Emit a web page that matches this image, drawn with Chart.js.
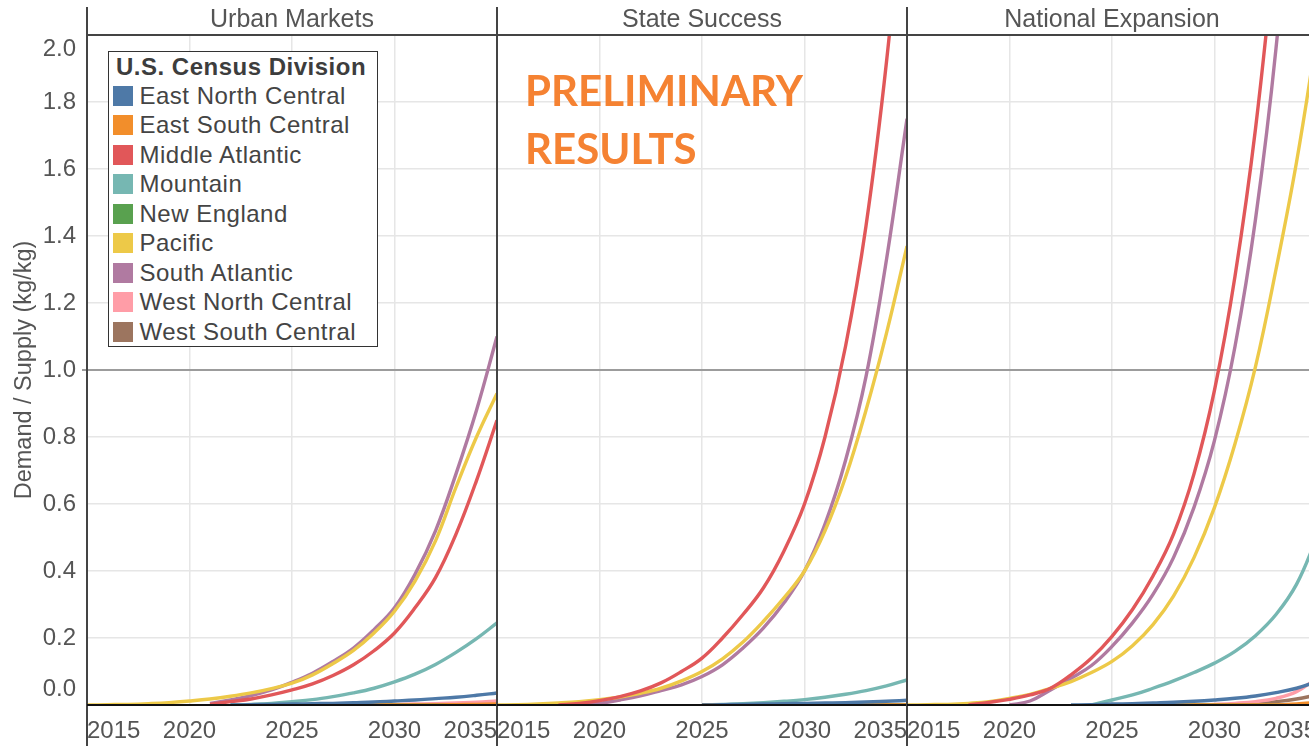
<!DOCTYPE html>
<html>
<head>
<meta charset="utf-8">
<title>Demand / Supply by U.S. Census Division</title>
<script src="https://cdn.jsdelivr.net/npm/chart.js@4.4.1/dist/chart.umd.min.js"></script>
<style>
  body { margin: 0; background: #fff; }
  #wrap { position: relative; width: 1309px; height: 746px; overflow: hidden; font-family: "Liberation Sans", Arial, sans-serif; }
  #wrap canvas { position: absolute; top: 0; }
  #legend { position: absolute; left: 108px; top: 51px; width: 268px; height: 294px; border: 1.5px solid #333; background: #fff; color: #444; }
  #legend .lg-title { font-weight: bold; font-size: 24px; letter-spacing: 0.5px; line-height: 28.5px; padding: 0.5px 0 0 7px; color: #3d3d3d; }
  #legend .lg-item { display: flex; align-items: center; height: 29.5px; font-size: 24px; letter-spacing: 0.5px; padding-left: 3.5px; white-space: nowrap; }
  #legend .lg-item span { width: 20px; height: 20px; margin-right: 7px; flex: none; }
  #prelim { position: absolute; left: 525px; top: 61px; font: 700 42px Lato, "Open Sans", sans-serif; line-height: 58px; color: #F58232; }
</style>
</head>
<body>
<div id="wrap">
  <canvas id="urban" width="500" height="746" style="left:0px"></canvas>
  <canvas id="state" width="420" height="746" style="left:490px"></canvas>
  <canvas id="national" width="420" height="746" style="left:900px"></canvas>
  <div id="legend"></div>
  <div id="prelim">PRELIMINARY<br>RESULTS</div>
</div>
<script>
'use strict';
const _ = null;

let years = [2015, 2016, 2017, 2018, 2019, 2020, 2021, 2022, 2023, 2024, 2025,
  2026, 2027, 2028, 2029, 2030, 2031, 2032, 2033, 2034, 2035];

let divisions = ['East North Central', 'East South Central', 'Middle Atlantic', 'Mountain',
  'New England', 'Pacific', 'South Atlantic', 'West North Central', 'West South Central'];

let divisionColors = ['#4E79A7', '#F28E2B', '#E15759', '#76B7B2',
  '#59A14F', '#EDC948', '#B07AA1', '#FF9DA7', '#9C755F'];

let yTicks = [0, 0.2, 0.4, 0.6, 0.8, 1.0, 1.2, 1.4, 1.6, 1.8, 2.0];
let xTicks = [2015, 2020, 2025, 2030, 2035];

// demand / supply ratio per year, one row per division (same order as divisions)
let urbanMarkets = [
  [_, _, _, _, _, _, _, 0, 0.001, 0.002, 0.003, 0.004, 0.005, 0.007, 0.009, 0.012, 0.015, 0.019, 0.023, 0.029, 0.036],
  [_, _, _, _, _, _, _, _, _, _, 0, 0, 0, 0, 0, 0, 0, 0, 0.001, 0.002, 0.003],
  [_, _, _, _, _, _, 0.002, 0.01, 0.018, 0.03, 0.045, 0.063, 0.088, 0.12, 0.162, 0.215, 0.29, 0.38, 0.51, 0.67, 0.85],
  [_, _, _, _, _, _, _, 0, 0.002, 0.005, 0.01, 0.016, 0.025, 0.036, 0.05, 0.069, 0.092, 0.121, 0.157, 0.198, 0.245],
  [_, _, _, _, _, _, _, _, _, _, 0, 0, 0, 0, 0, 0, 0, 0, 0, 0, 0],
  [0, 0.001, 0.002, 0.004, 0.007, 0.012, 0.018, 0.026, 0.036, 0.049, 0.065, 0.09, 0.124, 0.163, 0.215, 0.28, 0.37, 0.49, 0.65, 0.8, 0.93],
  [_, _, _, _, _, _, 0.005, 0.015, 0.028, 0.045, 0.068, 0.095, 0.13, 0.17, 0.225, 0.29, 0.39, 0.52, 0.69, 0.88, 1.1],
  [_, _, _, _, _, _, _, _, _, _, _, _, _, 0, 0.001, 0.002, 0.003, 0.004, 0.006, 0.008, 0.012],
  [_, _, _, _, _, _, _, _, _, _, 0, 0, 0, 0, 0, 0, 0, 0, 0, 0, 0]
];

let stateSuccess = [
  [_, _, _, _, _, _, _, _, _, _, 0, 0.001, 0.002, 0.003, 0.004, 0.005, 0.006, 0.007, 0.009, 0.011, 0.014],
  [_, _, _, _, _, _, _, _, _, _, 0, 0, 0, 0, 0, 0, 0, 0, 0, 0, 0],
  [_, _, _, 0, 0.005, 0.013, 0.025, 0.042, 0.066, 0.1, 0.14, 0.2, 0.27, 0.35, 0.46, 0.6, 0.8, 1.07, 1.43, 1.92, 2.55],
  [_, _, _, _, _, _, _, _, _, _, 0, 0.002, 0.004, 0.007, 0.011, 0.016, 0.023, 0.032, 0.043, 0.057, 0.075],
  [_, _, _, _, _, _, _, _, _, _, 0, 0, 0, 0, 0, 0, 0, 0, 0, 0, 0],
  [0, 0.001, 0.003, 0.006, 0.01, 0.016, 0.024, 0.035, 0.05, 0.072, 0.1, 0.138, 0.188, 0.25, 0.32, 0.4, 0.52, 0.68, 0.88, 1.11, 1.37],
  [_, _, _, _, 0, 0.005, 0.015, 0.027, 0.043, 0.06, 0.085, 0.12, 0.17, 0.23, 0.305, 0.4, 0.54, 0.73, 0.98, 1.33, 1.75],
  [_, _, _, _, _, _, _, _, _, _, 0, 0, 0, 0, 0, 0, 0, 0, 0, 0, 0],
  [_, _, _, _, _, _, _, _, _, _, 0, 0, 0, 0, 0, 0, 0, 0, 0, 0, 0]
];

let nationalExpansion = [
  [_, _, _, _, _, _, _, _, 0, 0.001, 0.003, 0.004, 0.006, 0.008, 0.011, 0.015, 0.02, 0.027, 0.037, 0.05, 0.07],
  [_, _, _, _, _, _, _, _, _, _, 0, 0, 0, 0, 0, 0, 0, 0, 0, 0.003, 0.008],
  [_, _, _, 0, 0.008, 0.017, 0.03, 0.05, 0.09, 0.14, 0.205, 0.285, 0.385, 0.51, 0.69, 0.94, 1.28, 1.72, 2.3, 3.0, 3.9],
  [_, _, _, _, _, _, _, _, _, 0, 0.015, 0.03, 0.05, 0.072, 0.097, 0.125, 0.16, 0.207, 0.27, 0.36, 0.5],
  [_, _, _, _, _, _, _, _, _, _, 0, 0, 0, 0, 0, 0, 0, 0, 0, 0.001, 0.003],
  [0, 0.001, 0.002, 0.005, 0.01, 0.02, 0.032, 0.05, 0.07, 0.097, 0.13, 0.177, 0.24, 0.325, 0.44, 0.59, 0.78, 1.01, 1.3, 1.62, 2.0],
  [_, _, _, _, _, 0, 0.012, 0.045, 0.08, 0.118, 0.175, 0.245, 0.33, 0.44, 0.59, 0.79, 1.07, 1.45, 1.96, 2.65, 3.5],
  [_, _, _, _, _, _, _, _, _, _, _, _, _, _, 0, 0.002, 0.005, 0.01, 0.02, 0.04, 0.08],
  [_, _, _, _, _, _, _, _, _, _, _, _, _, _, _, 0, 0.002, 0.005, 0.01, 0.018, 0.03]
];

const FONT = '"Liberation Sans", Arial, sans-serif';
Chart.defaults.font.family = FONT;
Chart.defaults.color = '#555';

// legend box drawn once, swatches from the division colours
let legendEl = document.getElementById('legend');
let titleEl = document.createElement('div');
titleEl.className = 'lg-title';
titleEl.textContent = 'U.S. Census Division';
legendEl.appendChild(titleEl);
for (let i = 0; i < divisions.length; i++) {
  let item = document.createElement('div');
  item.className = 'lg-item';
  let sw = document.createElement('span');
  sw.style.background = divisionColors[i];
  item.appendChild(sw);
  item.appendChild(document.createTextNode(divisions[i]));
  legendEl.appendChild(item);
}

// facet frame: header text, borders, the 1.0 rule and y labels kept inside the plot
const facetFrame = {
  id: 'facetFrame',
  beforeDatasetsDraw(chart, args, opts) {
    const {ctx, chartArea: a, scales: {y}} = chart;
    const py = y.getPixelForValue(1.0);
    ctx.save();
    ctx.strokeStyle = '#9c9c9c';
    ctx.lineWidth = 2;
    ctx.beginPath();
    ctx.moveTo(a.left - (opts.first ? 5 : 0), py);
    ctx.lineTo(a.right, py);
    ctx.stroke();
    ctx.restore();
  },
  afterDraw(chart, args, opts) {
    const {ctx, chartArea: a, scales: {y}} = chart;
    ctx.save();
    ctx.lineWidth = 2;
    ctx.strokeStyle = '#444';
    ctx.beginPath();
    ctx.moveTo(a.left, 7);
    ctx.lineTo(a.left, chart.height);
    ctx.moveTo(a.left, a.top);
    ctx.lineTo(a.right, a.top);
    ctx.stroke();
    ctx.strokeStyle = '#111';
    ctx.beginPath();
    ctx.moveTo(a.left, a.bottom);
    ctx.lineTo(a.right, a.bottom);
    ctx.stroke();

    ctx.fillStyle = '#555';
    ctx.font = '25px ' + FONT;
    ctx.textAlign = 'center';
    ctx.textBaseline = 'middle';
    ctx.fillText(opts.title, (a.left + a.right) / 2, 20);

    if (opts.first) {
      ctx.font = '24px ' + FONT;
      ctx.textAlign = 'right';
      y.ticks.forEach((t, i) => {
        let py = y.getPixelForTick(i);
        py = Math.min(Math.max(py, a.top + 14), a.bottom - 16);
        ctx.fillText(t.value.toFixed(1), a.left - 11, py);
      });
    }
    ctx.restore();
  }
};

function makePanel(canvasId, title, series, first) {
  let datasets = [];
  for (let i = 0; i < divisions.length; i++) {
    datasets.push({
      label: divisions[i],
      data: years.map((yr, j) => ({x: yr, y: series[i][j]})),
      borderColor: divisionColors[i],
      backgroundColor: divisionColors[i],
      borderWidth: 3.4,
      pointRadius: 0,
      pointHoverRadius: 0,
      tension: 0.4
    });
  }

  return new Chart(document.getElementById(canvasId), {
    type: 'line',
    data: {datasets: datasets},
    plugins: [facetFrame],
    options: {
      responsive: false,
      animation: false,
      events: [],
      layout: {autoPadding: false, padding: {top: 35, right: 3, left: 0, bottom: 0}},
      plugins: {
        legend: {display: false},
        tooltip: {enabled: false},
        facetFrame: {title: title, first: first}
      },
      scales: {
        x: {
          type: 'linear',
          min: xTicks[0],
          max: xTicks[xTicks.length - 1],
          afterBuildTicks: s => { s.ticks = xTicks.map(v => ({value: v})); },
          // fixed axis height; end labels sit inside, so no side padding
          afterFit: s => { s.height = 41; s.paddingLeft = 0; s.paddingRight = 0; },
          ticks: {
            align: 'inner',
            maxRotation: 0,
            autoSkip: false,
            padding: 12,
            color: '#555',
            font: {size: 24},
            callback: v => String(v)
          },
          grid: {color: '#e6e6e6', lineWidth: 1.5, drawTicks: false},
          border: {display: false}
        },
        y: {
          min: yTicks[0],
          max: yTicks[yTicks.length - 1],
          afterBuildTicks: s => { s.ticks = yTicks.map(v => ({value: v})); },
          afterFit: s => { s.width = first ? 87 : 7; s.paddingTop = 0; s.paddingBottom = 0; },
          ticks: {display: false},
          grid: {color: '#e6e6e6', lineWidth: 1.5, drawTicks: false},
          border: {display: false},
          title: {
            display: first,
            text: 'Demand / Supply (kg/kg)',
            color: '#555',
            font: {size: 23.5},
            padding: {top: 10, bottom: 0}
          }
        }
      }
    }
  });
}

makePanel('urban', 'Urban Markets', urbanMarkets, true);
makePanel('state', 'State Success', stateSuccess, false);
makePanel('national', 'National Expansion', nationalExpansion, false);
</script>
</body>
</html>
